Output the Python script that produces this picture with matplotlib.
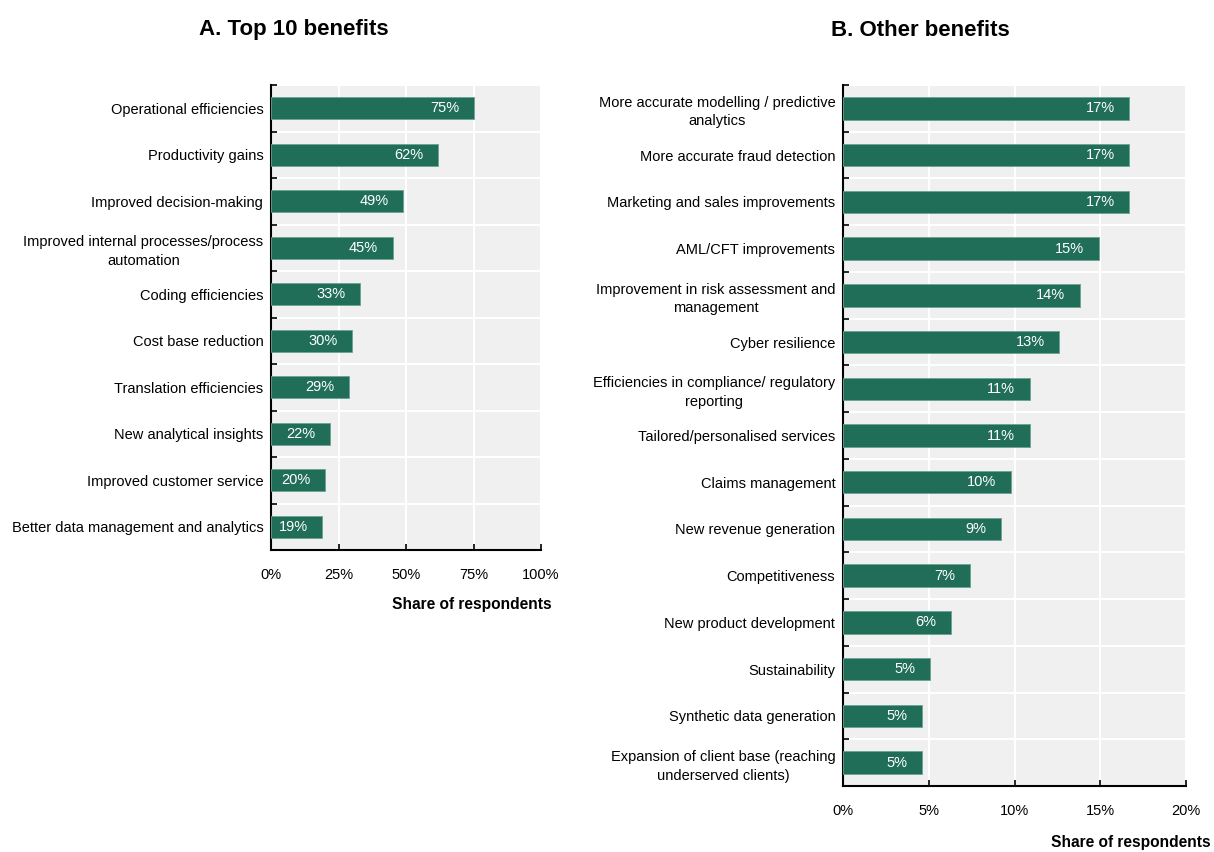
import matplotlib
matplotlib.use("Agg")
import matplotlib.pyplot as plt
import numpy as np

plt.rcParams['font.family'] = ['Liberation Sans', 'DejaVu Sans']

# Panel A: top 10 benefits (share of respondents, %)
top_labels = [
    "Operational efficiencies",
    "Productivity gains",
    "Improved decision-making",
    "Improved internal processes/process\nautomation",
    "Coding efficiencies",
    "Cost base reduction",
    "Translation efficiencies",
    "New analytical insights",
    "Improved customer service",
    "Better data management and analytics",
]
top_values = [75, 62, 49, 45, 33, 30, 29, 22, 20, 19]

# Panel B: other benefits (share of respondents, %)
other_labels = [
    "More accurate modelling / predictive\nanalytics",
    "More accurate fraud detection",
    "Marketing and sales improvements",
    "AML/CFT improvements",
    "Improvement in risk assessment and\nmanagement",
    "Cyber resilience",
    "Efficiencies in compliance/ regulatory\nreporting",
    "Tailored/personalised services",
    "Claims management",
    "New revenue generation",
    "Competitiveness",
    "New product development",
    "Sustainability",
    "Synthetic data generation",
    "Expansion of client base (reaching\nunderserved clients)",
]
other_values = [16.7, 16.7, 16.7, 14.9, 13.8, 12.6, 10.9, 10.9, 9.8, 9.2, 7.4, 6.3, 5.1, 4.6, 4.6]

top_ticks = [0, 25, 50, 75, 100]
other_ticks = [0, 5, 10, 15, 20]

BAR = "#206e58"
BG = "#f0f0f0"
FS = 10.5

W, H = 1214, 852
fig = plt.figure(figsize=(W / 100, H / 100), dpi=100)


def px_axes(x0, y0, x1, y1):
    return fig.add_axes([x0 / W, 1 - y1 / H, (x1 - x0) / W, (y1 - y0) / H])


def draw_panel(ax, labels, values, ticks):
    n = len(labels)
    y = np.arange(n)
    ax.set_facecolor(BG)
    ax.barh(y, values, height=0.48, color=BAR, edgecolor="#6aa392", linewidth=0.6, zorder=3)
    ax.set_ylim(n - 0.5, -0.5)
    ax.set_xlim(ticks[0], ticks[-1])
    ax.set_xticks(ticks)
    ax.set_xticklabels([f"{t}%" for t in ticks], fontsize=FS)
    ax.set_yticks(y)
    ax.set_yticklabels(labels, fontsize=FS, multialignment="center", linespacing=1.4)
    ax.tick_params(axis="y", which="major", length=0, pad=5.5)
    # boundary ticks and horizontal grid between categories
    bounds = np.arange(n + 1) - 0.5
    ax.set_yticks(bounds, minor=True)
    ax.tick_params(axis="y", which="minor", direction="in", length=4, width=1.2, color="black")
    ax.tick_params(axis="x", which="major", direction="in", length=4, width=1.2, pad=13)
    ax.grid(axis="y", which="minor", color="white", linewidth=1.5, zorder=1)
    ax.grid(axis="x", which="major", color="white", linewidth=1.5, zorder=1)
    ax.set_axisbelow(True)
    for s in ("top", "right"):
        ax.spines[s].set_visible(False)
    for s in ("left", "bottom"):
        ax.spines[s].set_linewidth(1.5)
        ax.spines[s].set_color("black")
    for yi, v in zip(y, values):
        ax.annotate(f"{round(v)}%", xy=(v, yi), xytext=(-10.5, 0), textcoords="offset points",
                    ha="right", va="center", color="white", fontsize=FS, zorder=4)


axA = px_axes(271, 85, 541, 550)
draw_panel(axA, top_labels, top_values, top_ticks)

axB = px_axes(843, 85, 1186, 786)
draw_panel(axB, other_labels, other_values, other_ticks)

fig.text(294 / W, 1 - 30 / H, "A. Top 10 benefits", ha="center", va="center",
         fontsize=16, fontweight="bold")
fig.text(920 / W, 1 - 30 / H, "B. Other benefits", ha="center", va="center",
         fontsize=16, fontweight="bold")
fig.text(552 / W, 1 - 605 / H, "Share of respondents", ha="right", va="center",
         fontsize=11.2, fontweight="bold")
fig.text(1211 / W, 1 - 843 / H, "Share of respondents", ha="right", va="center",
         fontsize=11.2, fontweight="bold")

fig.savefig("out.png", dpi=100, facecolor="white")
